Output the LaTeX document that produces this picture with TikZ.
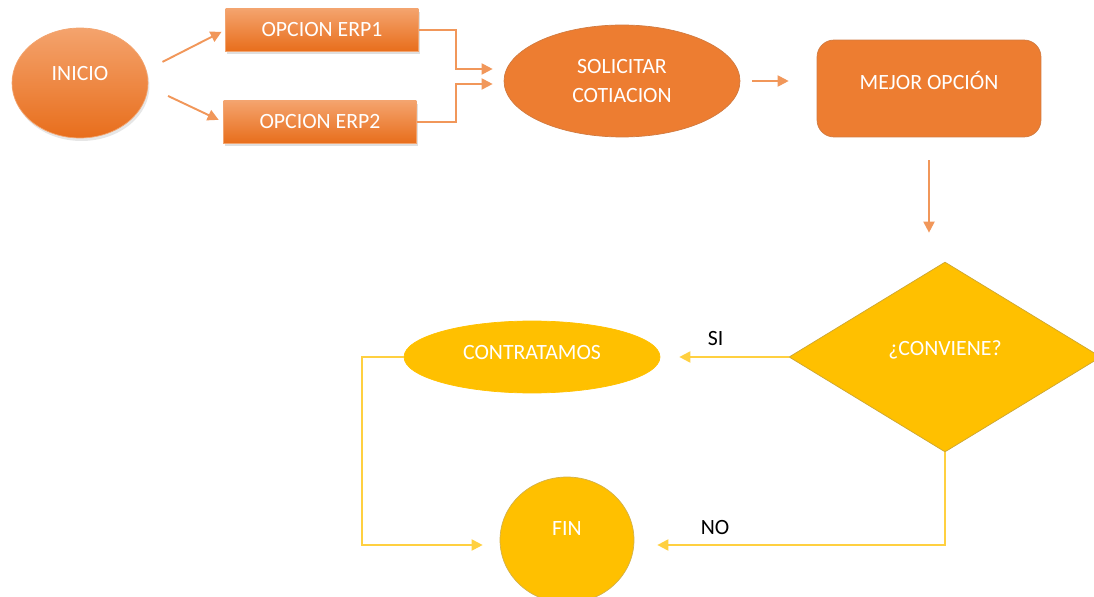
\documentclass[tikz,border=0pt]{standalone}
\usepackage{fontspec}
\setmainfont{Carlito}
\usetikzlibrary{positioning, arrows.meta, shapes.geometric, shadows}
\definecolor{erporange}{HTML}{ED7D31}
\definecolor{erplight}{HTML}{F4A36D}
\definecolor{erpdark}{HTML}{E86E1C}
\definecolor{erpedge}{HTML}{C55A11}
\definecolor{decgold}{HTML}{FFC000}
\definecolor{decedge}{HTML}{BF9000}
\tikzset{
  txt/.style       = {font=\fontsize{12.4}{16.5}\selectfont, text=white, align=center, inner sep=0pt},
  startnode/.style = {txt, ellipse, top color=erplight, bottom color=erpdark, draw=erporange!70,
                      minimum width=27.2mm, minimum height=22mm, text depth=11pt,
                      drop shadow={shadow xshift=0.3mm, shadow yshift=-0.6mm, opacity=0.2}},
  optbox/.style    = {txt, rectangle, top color=erplight, bottom color=erpdark, draw=erporange!70,
                      minimum width=38.6mm, minimum height=8.4mm,
                      drop shadow={shadow xshift=0.3mm, shadow yshift=-0.6mm, opacity=0.25}},
  reqnode/.style   = {txt, ellipse, fill=erporange, draw=erpedge!80, thin,
                      minimum width=47.2mm, minimum height=22.4mm},
  bestbox/.style   = {txt, rectangle, rounded corners=3.4mm, fill=erporange, draw=erpedge!80, thin,
                      minimum width=44.8mm, minimum height=19.4mm, text depth=9.7pt},
  decide/.style    = {txt, diamond, aspect=1.64, fill=decgold, draw=decedge!80, thin,
                      minimum width=62.4mm, minimum height=38mm, text depth=10pt},
  hire/.style      = {txt, ellipse, fill=decgold, draw=decgold,
                      minimum width=51.2mm, minimum height=14.4mm, text depth=5.7pt},
  endnode/.style   = {txt, ellipse, fill=decgold, draw=decedge!70, thin,
                      minimum width=26.8mm, minimum height=25.2mm, text depth=13pt},
  lab/.style       = {font=\fontsize{12.4}{15}\selectfont, text=black},
  flow/.style      = {line width=1.1pt, -{Triangle[length=2.2mm, width=2.2mm]}, draw=erporange!80},
  answer/.style    = {line width=1.1pt, -{Triangle[length=2.2mm, width=2.2mm]}, draw=decgold!75},
}
\begin{document}
\begin{tikzpicture}[x=0.02cm, y=-0.02cm]
\useasboundingbox (0,0) rectangle (1094,597);

% Top row: start, the two ERP options, request, best option
\node (ini)  [startnode] at (80,83)    {INICIO};
\node (erp1) [optbox]    at (322,30)   {OPCION ERP1};
\node (erp2) [optbox]    at (320,122)  {OPCION ERP2};
\node (req)  [reqnode]   at (622,81)   {SOLICITAR\\COTIACION};
\node (best) [bestbox]   at (929,88.5) {MEJOR OPCIÓN};

% Bottom part: decision and its two outcomes
\node (dec)  [decide]  at (945,357) {¿CONVIENE?};
\node (hire) [hire]    at (532,357) {CONTRATAMOS};
\node (fin)  [endnode] at (567,540) {FIN};

\draw [flow, shorten <=3.6mm, shorten >=0.8mm] (ini.11) -- (erp1.west);
\draw [flow, shorten <=4.4mm, shorten >=1mm] (ini.-3) -- (erp2.west);
\draw [flow, shorten >=2.2mm] (erp1.east) -- ++(37,0) |- ([yshift=2.4mm]req.west);
\draw [flow, shorten >=2.2mm] (erp2.east) -- ++(39,0) |- ([yshift=-0.6mm]req.west);
\draw [flow, shorten <=2.4mm, shorten >=5.6mm] (req.east) -- (req.east -| best.west);
\draw [flow, shorten <=4.6mm, shorten >=5.8mm] (best.south) -- (best.south |- dec.north);

\draw [answer, shorten >=3.8mm] (dec.west) -- (dec.west -| hire.east)
  node [lab, pos=0.57, above=1mm] (si) {SI};
\draw [answer, shorten >=4.6mm] (dec.south) |- ([yshift=-1mm]fin.east)
  node [lab, pos=0.87, above=0.8mm] (no) {NO};
\draw [answer, shorten >=3.4mm] (hire.west) -- ++(-42,0) |- ([yshift=-1mm]fin.west);

\end{tikzpicture}
\end{document}
